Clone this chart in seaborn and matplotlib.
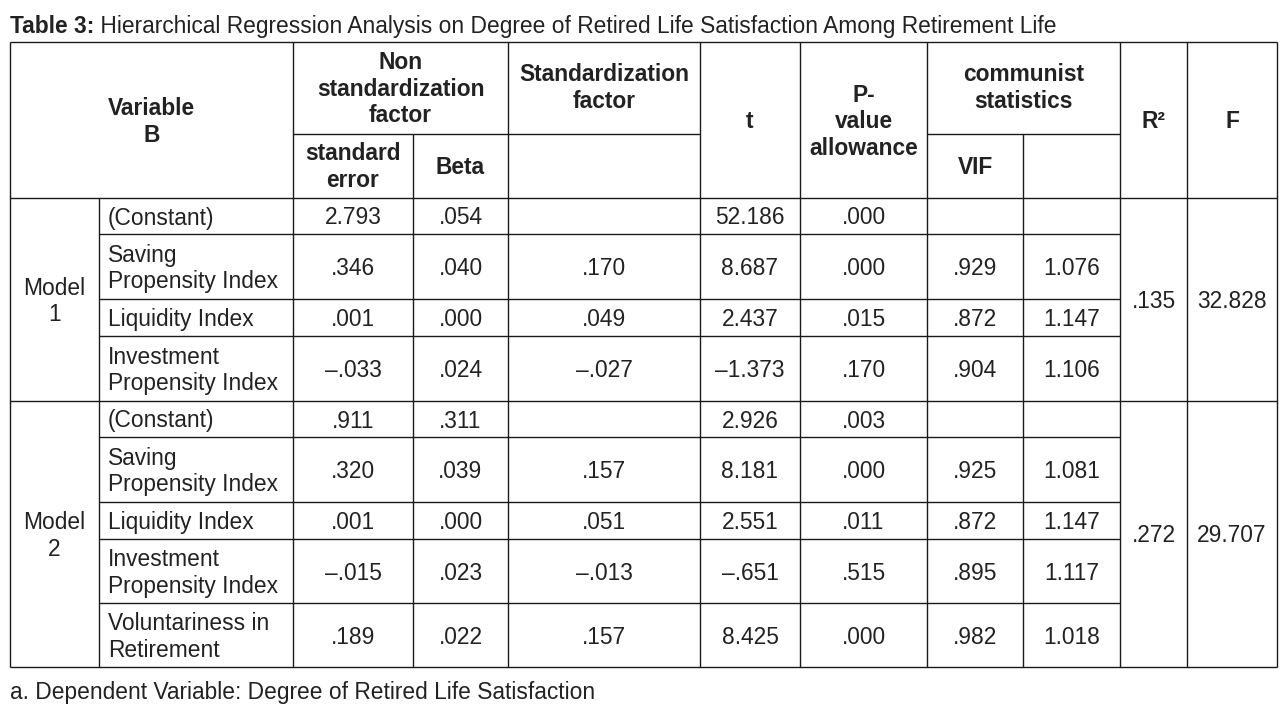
import numpy as np
import matplotlib.pyplot as plt
import seaborn as sns

sns.set_style("white")
plt.rcParams['font.family'] = ['Liberation Sans', 'DejaVu Sans']

# ---- table content ----
TITLE_BOLD = "Table 3:"
TITLE_REST = " Hierarchical Regression Analysis on Degree of Retired Life Satisfaction Among Retirement Life"
FOOTNOTE = "a. Dependent Variable: Degree of Retired Life Satisfaction"

model_labels = ["Model\n1", "Model\n2"]

m1_vars = ["(Constant)", "Saving\nPropensity Index", "Liquidity Index",
           "Investment\nPropensity Index"]
m1_se = ["2.793", ".346", ".001", "\u2013.033"]
m1_beta = [".054", ".040", ".000", ".024"]
m1_std = ["", ".170", ".049", "\u2013.027"]
m1_t = ["52.186", "8.687", "2.437", "\u20131.373"]
m1_p = [".000", ".000", ".015", ".170"]
m1_tol = ["", ".929", ".872", ".904"]
m1_vif = ["", "1.076", "1.147", "1.106"]
m1_r2, m1_f = ".135", "32.828"

m2_vars = ["(Constant)", "Saving\nPropensity Index", "Liquidity Index",
           "Investment\nPropensity Index", "Voluntariness in\nRetirement"]
m2_se = [".911", ".320", ".001", "\u2013.015", ".189"]
m2_beta = [".311", ".039", ".000", ".023", ".022"]
m2_std = ["", ".157", ".051", "\u2013.013", ".157"]
m2_t = ["2.926", "8.181", "2.551", "\u2013.651", "8.425"]
m2_p = [".003", ".000", ".011", ".515", ".000"]
m2_tol = ["", ".925", ".872", ".895", ".982"]
m2_vif = ["", "1.081", "1.147", "1.117", "1.018"]
m2_r2, m2_f = ".272", "29.707"

# ---- layout (pixel grid) ----
FS = 16.4
LC = '#1a1a1a'
LW = 1.0
DY = 2  # small downward nudge of body text
col_edges = [10, 99, 293, 413, 508, 700, 800, 927, 1023, 1120, 1187, 1277]
y_top, y_sub, y_head = 42, 134, 198
m1_heights = [36, 65, 37, 65]
m2_heights = [36, 65, 37, 64, 64]

fig = plt.figure(figsize=(12.88, 7.19), dpi=100)
ax = fig.add_axes([0, 0, 1, 1])
ax.set_xlim(0, 1288)
ax.set_ylim(719, 0)
ax.axis('off')

# title
t1 = ax.text(10, 33, TITLE_BOLD, fontsize=FS, fontweight='bold',
             ha='left', va='baseline', color='#222222')
ax.annotate(TITLE_REST, xy=(1, 0), xycoords=t1, ha='left', va='bottom',
            fontsize=FS, color='#222222')

# header grid
ax.hlines([y_top, y_head], col_edges[0], col_edges[-1], color=LC, lw=LW)
ax.hlines([y_sub, y_sub], [col_edges[2], col_edges[7]], [col_edges[5], col_edges[9]],
          color=LC, lw=LW)

hdr = dict(fontsize=FS, fontweight='bold', ha='center', va='center',
           linespacing=1.2, color='#222222')
cx = lambda i, j: (col_edges[i] + col_edges[j]) / 2
ax.text(cx(0, 2), (y_top + y_head) / 2 + DY, "Variable\nB", **hdr)
ax.text(cx(2, 4), (y_top + y_sub) / 2 + 1, "Non\nstandardization\nfactor", **hdr)
ax.text(cx(4, 5), (y_top + y_sub) / 2, "Standardization\nfactor", **hdr)
ax.text(cx(2, 3), (y_sub + y_head) / 2 + 1, "standard\nerror", **hdr)
ax.text(cx(3, 4), (y_sub + y_head) / 2 + DY, "Beta", **hdr)
ax.text(cx(5, 6), (y_top + y_head) / 2 + DY, "t", **hdr)
ax.text(cx(6, 7), (y_top + y_head) / 2 + DY, "P-\nvalue\nallowance", **hdr)
ax.text(cx(7, 9), (y_top + y_sub) / 2, "communist\nstatistics", **hdr)
ax.text(cx(7, 8), (y_sub + y_head) / 2 + DY, "VIF", **hdr)
ax.text(cx(9, 10), (y_top + y_head) / 2 + DY, "R\u00b2", **hdr)
ax.text(cx(10, 11), (y_top + y_head) / 2 + DY, "F", **hdr)

body = dict(fontsize=FS, va='center', linespacing=1.2, color='#222222')


def draw_model(y0, heights, label, names, cols, r2, f):
    edges = y0 + np.concatenate([[0], np.cumsum(heights)])
    y1 = edges[-1]
    mid = (y0 + y1) / 2 + DY
    ax.text(cx(0, 1), mid, label, ha='center', **body)
    ax.text(cx(9, 10), mid, r2, ha='center', **body)
    ax.text(cx(10, 11), mid, f, ha='center', **body)
    ax.hlines(edges[1:-1], col_edges[1], col_edges[9], color=LC, lw=LW)
    for k, name in enumerate(names):
        yc = (edges[k] + edges[k + 1]) / 2 + DY
        ax.text(col_edges[1] + 9, yc, name, ha='left', **body)
        for c, vals in enumerate(cols):
            ax.text(cx(c + 2, c + 3), yc, vals[k], ha='center', **body)
    return y1


y_mid = draw_model(y_head, m1_heights, model_labels[0], m1_vars,
                   [m1_se, m1_beta, m1_std, m1_t, m1_p, m1_tol, m1_vif], m1_r2, m1_f)
y_bot = draw_model(y_mid, m2_heights, model_labels[1], m2_vars,
                   [m2_se, m2_beta, m2_std, m2_t, m2_p, m2_tol, m2_vif], m2_r2, m2_f)

ax.hlines([y_mid, y_bot], col_edges[0], col_edges[-1], color=LC, lw=LW)

# vertical rules
full = [0, 2, 4, 5, 6, 7, 9, 10, 11]
ax.vlines([col_edges[i] for i in full], y_top, y_bot, color=LC, lw=LW)
ax.vlines([col_edges[3], col_edges[8]], y_sub, y_bot, color=LC, lw=LW)
ax.vlines(col_edges[1], y_head, y_bot, color=LC, lw=LW)

ax.text(10, 692, FOOTNOTE, fontsize=FS, ha='left', va='center', color='#222222')

fig.savefig("out.png", dpi=100)
